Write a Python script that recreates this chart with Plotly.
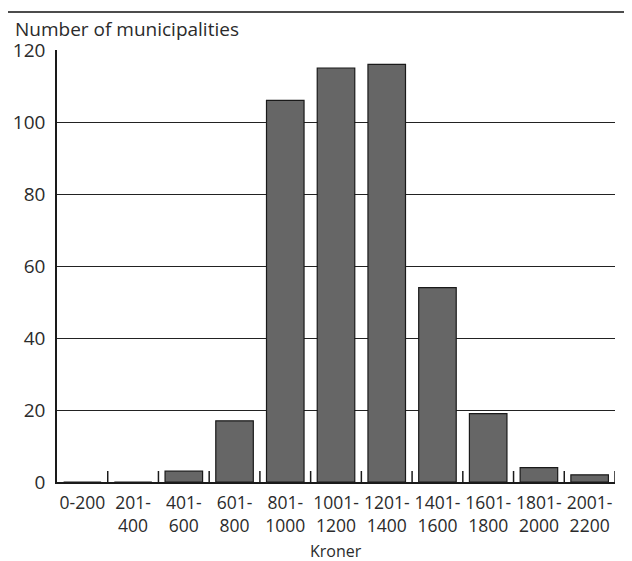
import plotly.graph_objects as go

categories = ["0-200", "201-<br>400", "401-<br>600", "601-<br>800", "801-<br>1000",
              "1001-<br>1200", "1201-<br>1400", "1401-<br>1600", "1601-<br>1800",
              "1801-<br>2000", "2001-<br>2200"]
counts = [0, 0, 3, 17, 106, 115, 116, 54, 19, 4, 2]
y_ticks = [0, 20, 40, 60, 80, 100, 120]

# page body has an 8px margin, so the figure is drawn 8px in from the window corner
D = 8
W, H = 632 - D, 561 - D
L, R, T, B = 57 - D, 17, 50 - D, 79
pw, ph = W - L - R, H - T - B

def px_x(p):  # p in window pixels
    return (p - D - L) / pw

def px_y(p):
    return 1 + (T - (p - D)) / ph

FONT = "Open Sans"
TXT = "#2b2b2b"

fig = go.Figure(go.Bar(
    x=list(range(len(categories))),
    y=counts,
    marker=dict(color="#666666", line=dict(color="#1a1a1a", width=1.2)),
    width=0.74,
))

fig.update_layout(
    width=W, height=H,
    margin=dict(l=L, r=R, t=T, b=B, pad=0, autoexpand=False),
    paper_bgcolor="white", plot_bgcolor="white",
    font=dict(family=FONT, color=TXT),
    showlegend=False,
    xaxis=dict(
        type="linear",
        automargin=False,
        range=[-0.5, len(categories) - 0.5],
        tickmode="array",
        tickvals=list(range(len(categories))),
        ticktext=categories,
        ticks="",
        showgrid=False,
        showline=True, linecolor="#1a1a1a", linewidth=1.5,
        tickfont=dict(size=17.5, family=FONT, color=TXT),
        ticklabelstandoff=4,
        zeroline=False,
    ),
    yaxis=dict(
        automargin=False,
        range=[0, 120],
        tickmode="array",
        tickvals=y_ticks,
        ticks="",
        showgrid=True, gridcolor="#222222", gridwidth=1,
        showline=True, linecolor="#1a1a1a", linewidth=1.5,
        zeroline=False,
        tickfont=dict(size=19, family=FONT, color=TXT),
        ticklabelstandoff=6,
    ),
)

# category boundary ticks (inside, upward from baseline)
for i in range(1, len(categories) + 1):
    fig.add_shape(type="line", xref="x", yref="paper",
                  x0=i - 0.5, x1=i - 0.5, y0=0, y1=11 / ph,
                  line=dict(color="#1a1a1a", width=1.5))

# top rule
fig.add_shape(type="line", xref="paper", yref="paper",
              x0=px_x(8), x1=px_x(632), y0=px_y(12), y1=px_y(12),
              line=dict(color="#111111", width=1.5))

fig.add_annotation(text="Number of municipalities", xref="paper", yref="paper",
                   x=px_x(13), y=px_y(29.5), xanchor="left", yanchor="middle",
                   showarrow=False, font=dict(size=19, family=FONT, color=TXT))

fig.add_annotation(text="Kroner", xref="paper", yref="paper",
                   x=0.5, y=px_y(551), xanchor="center", yanchor="middle",
                   showarrow=False, font=dict(size=16, family=FONT, color=TXT))

fig.write_html("out.html")
